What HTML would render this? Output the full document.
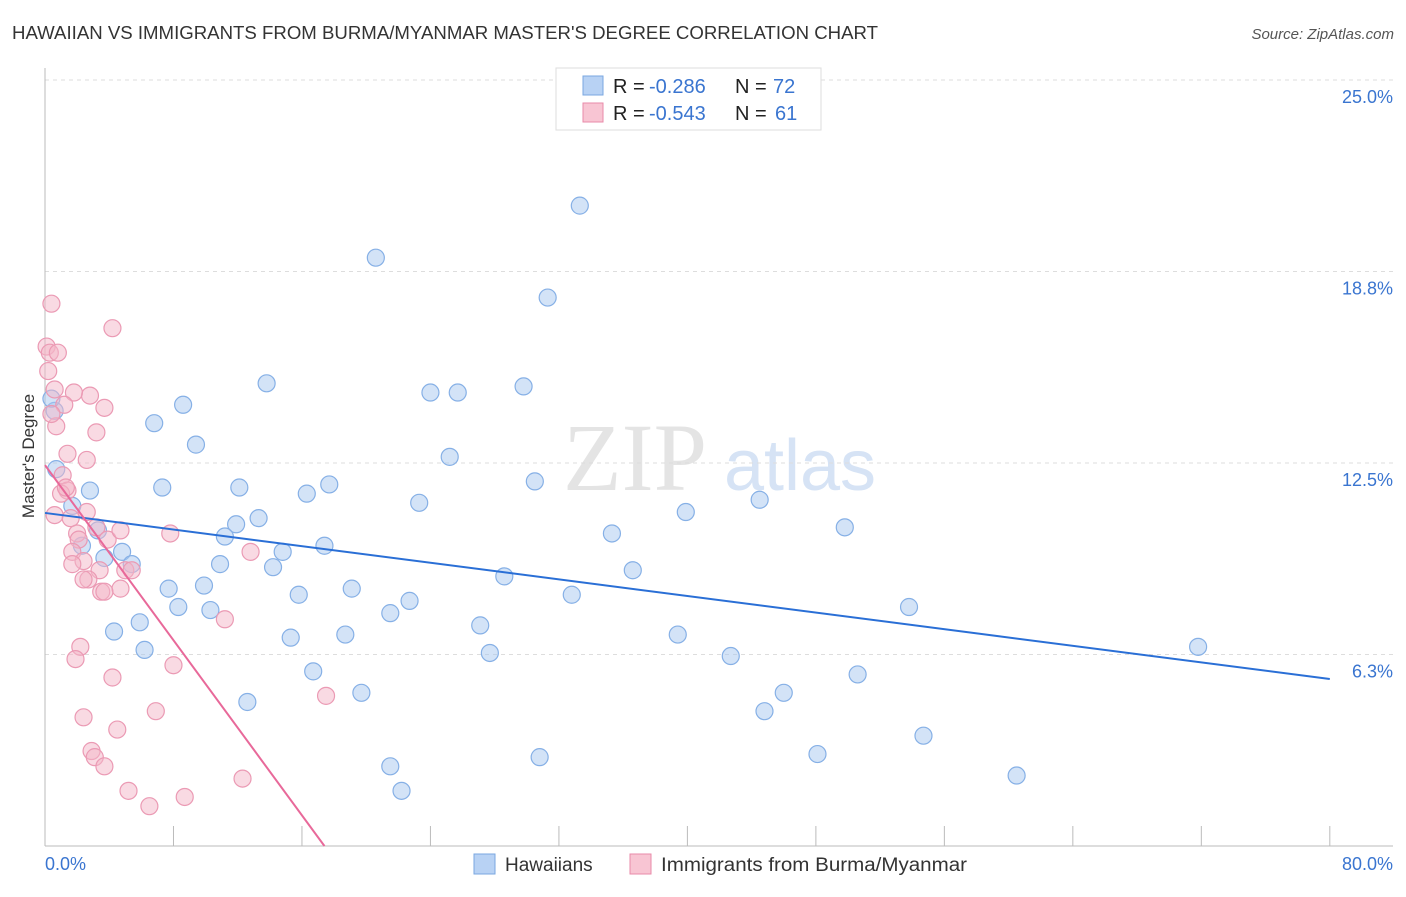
<!DOCTYPE html>
<html><head><meta charset="utf-8"><style>
body{margin:0;background:#fff;font-family:"Liberation Sans",sans-serif;}
</style></head><body>
<svg id="chart" width="1406" height="892" xmlns="http://www.w3.org/2000/svg" style="font-family:'Liberation Sans',sans-serif">
<text x="12" y="39" font-size="18" fill="#333" textLength="866" lengthAdjust="spacingAndGlyphs">HAWAIIAN VS IMMIGRANTS FROM BURMA/MYANMAR MASTER'S DEGREE CORRELATION CHART</text>
<text x="1394" y="39" font-size="15" fill="#555" font-style="italic" text-anchor="end">Source: ZipAtlas.com</text>
<text x="635" y="490" font-size="96" fill="#e4e4e4" font-family="Liberation Serif,serif" text-anchor="middle">ZIP</text>
<text x="800" y="490" font-size="72" fill="#d6e3f5" text-anchor="middle">atlas</text>
<g id="grid"></g><g id="axes"></g><g id="marks"></g>
<text transform="translate(34,456) rotate(-90)" font-size="17" fill="#333" text-anchor="middle">Master's Degree</text>
<g>
<rect x="556" y="68" width="265" height="62" fill="#fff" stroke="#ddd"/>
<rect x="583" y="76" width="20" height="19" fill="#b8d2f4" stroke="#7aa7e0"/>
<rect x="583" y="103" width="20" height="19" fill="#f8c5d3" stroke="#e88aa8"/>
<text x="613" y="93" font-size="20" fill="#222">R =</text>
<text x="649" y="93" font-size="20" fill="#3a75d0">-0.286</text>
<text x="735" y="93" font-size="20" fill="#222">N =</text>
<text x="773" y="93" font-size="20" fill="#3a75d0">72</text>
<text x="613" y="120" font-size="20" fill="#222">R =</text>
<text x="649" y="120" font-size="20" fill="#3a75d0">-0.543</text>
<text x="735" y="120" font-size="20" fill="#222">N =</text>
<text x="775" y="120" font-size="20" fill="#3a75d0">61</text>
</g>
<g>
<rect x="474" y="854" width="21" height="20" fill="#b8d2f4" stroke="#7aa7e0"/>
<text x="505" y="871" font-size="19" fill="#333">Hawaiians</text>
<rect x="630" y="854" width="21" height="20" fill="#f8c5d3" stroke="#e88aa8"/>
<text x="661" y="871" font-size="19" fill="#333" textLength="306" lengthAdjust="spacingAndGlyphs">Immigrants from Burma/Myanmar</text>
</g>
</svg>
<script>
const yTicks=[25,18.75,12.5,6.25];
const yTickLabels=["25.0%","18.8%","12.5%","6.3%"];
const xTicks=[0,8,16,24,32,40,48,56,64,72,80];
const xEndLabels=["0.0%","80.0%"];
const hawX=[33.3,20.6,31.3,13.8,24.0,25.7,29.8,8.6,6.8,9.4,25.2,30.5,7.3,12.1,16.3,17.7,23.3,39.9,44.5,49.8,35.3,13.3,11.9,11.2,14.8,17.4,2.8,1.7,0.7,0.6,0.4,3.3,2.3,4.8,3.7,5.4,10.9,14.2,28.6,36.6,7.7,9.9,19.1,15.8,22.7,21.5,32.8,8.3,10.3,4.3,5.9,6.2,15.3,18.7,27.1,27.7,39.4,42.7,53.8,71.8,16.7,19.7,12.6,46.0,44.8,50.6,54.7,21.5,48.1,30.8,60.5,22.2];
const hawY=[20.9,19.2,17.9,15.1,14.8,14.8,15.0,14.4,13.8,13.1,12.7,11.9,11.7,11.7,11.5,11.8,11.2,10.9,11.3,10.4,10.2,10.7,10.5,10.1,9.6,9.8,11.6,11.1,12.3,14.2,14.6,10.3,9.8,9.6,9.4,9.2,9.2,9.1,8.8,9.0,8.4,8.5,8.4,8.2,8.0,7.6,8.2,7.8,7.7,7.0,7.3,6.4,6.8,6.9,7.2,6.3,6.9,6.2,7.8,6.5,5.7,5.0,4.7,5.0,4.4,5.6,3.6,2.6,3.0,2.9,2.3,1.8];
const burX=[0.4,4.2,0.1,0.3,0.8,0.2,0.6,2.8,1.8,1.2,3.7,0.7,3.2,2.6,1.4,1.1,1.4,1.0,1.3,0.6,1.6,2.6,3.2,2.0,3.9,2.1,7.8,1.7,2.4,1.7,5.0,5.4,3.4,2.7,2.4,4.7,3.5,3.7,12.8,11.2,2.2,1.9,8.0,4.2,17.5,2.4,6.9,4.5,2.9,3.1,3.7,12.3,5.2,8.7,6.5,0.4,4.7];
const burY=[17.7,16.9,16.3,16.1,16.1,15.5,14.9,14.7,14.8,14.4,14.3,13.7,13.5,12.6,12.8,12.1,11.6,11.5,11.7,10.8,10.7,10.9,10.4,10.2,10.0,10.0,10.2,9.6,9.3,9.2,9.0,9.0,9.0,8.7,8.7,8.4,8.3,8.3,9.6,7.4,6.5,6.1,5.9,5.5,4.9,4.2,4.4,3.8,3.1,2.9,2.6,2.2,1.8,1.6,1.3,14.1,10.3];
const hawLine=[[0,10.87],[80,5.45]];
const burLine=[[0,12.43],[17.4,0]];
const NS='http://www.w3.org/2000/svg';
const X=v=>45+v*16.06, Y=v=>846-v*30.64;
function mk(t,a,p){const e=document.createElementNS(NS,t);for(const k in a)e.setAttribute(k,a[k]);document.getElementById(p).appendChild(e);return e;}
yTicks.forEach((t,i)=>{
 const l=mk('line',{x1:45,x2:1393,y1:Y(t),y2:Y(t),stroke:'#ddd','stroke-dasharray':'4,4'},'grid');
 
 
 const tx=mk('text',{x:1393,y:Y(t)+23,'font-size':18,fill:'#3a75d0','text-anchor':'end'},'axes');
 tx.textContent=yTickLabels[i];
 
 
});
const ax=mk('line',{x1:45,x2:45,y1:68,y2:846,stroke:'#bbb'},'axes');


const bx=mk('line',{x1:45,x2:1393,y1:846,y2:846,stroke:'#bbb'},'axes');


xTicks.forEach(t=>{
 const l=mk('line',{x1:X(t),x2:X(t),y1:826,y2:846,stroke:'#bbb'},'axes');
 
 
});
[[0,'start',45],[80,'end',1393]].forEach((d,i)=>{
 const tx=mk('text',{x:d[2],y:870,'font-size':18,fill:'#3a75d0','text-anchor':d[1]},'axes');
 tx.textContent=xEndLabels[i];
 
 
});
hawX.forEach((v,i)=>{
 const c=mk('circle',{cx:X(v),cy:Y(hawY[i]),r:8.5,fill:'rgba(168,200,240,0.5)',stroke:'#86b0e6','stroke-width':1.2},'marks');
 
 
});
burX.forEach((v,i)=>{
 const c=mk('circle',{cx:X(v),cy:Y(burY[i]),r:8.5,fill:'rgba(244,182,200,0.5)',stroke:'#eb9ab4','stroke-width':1.2},'marks');
 
 
});
const hl=mk('line',{x1:X(hawLine[0][0]),y1:Y(hawLine[0][1]),x2:X(hawLine[1][0]),y2:Y(hawLine[1][1]),stroke:'#2a6fd6','stroke-width':2},'marks');


const pl=mk('line',{x1:X(burLine[0][0]),y1:Y(burLine[0][1]),x2:X(burLine[1][0]),y2:Y(burLine[1][1]),stroke:'#e8699a','stroke-width':2},'marks');


</script>
</body></html>
